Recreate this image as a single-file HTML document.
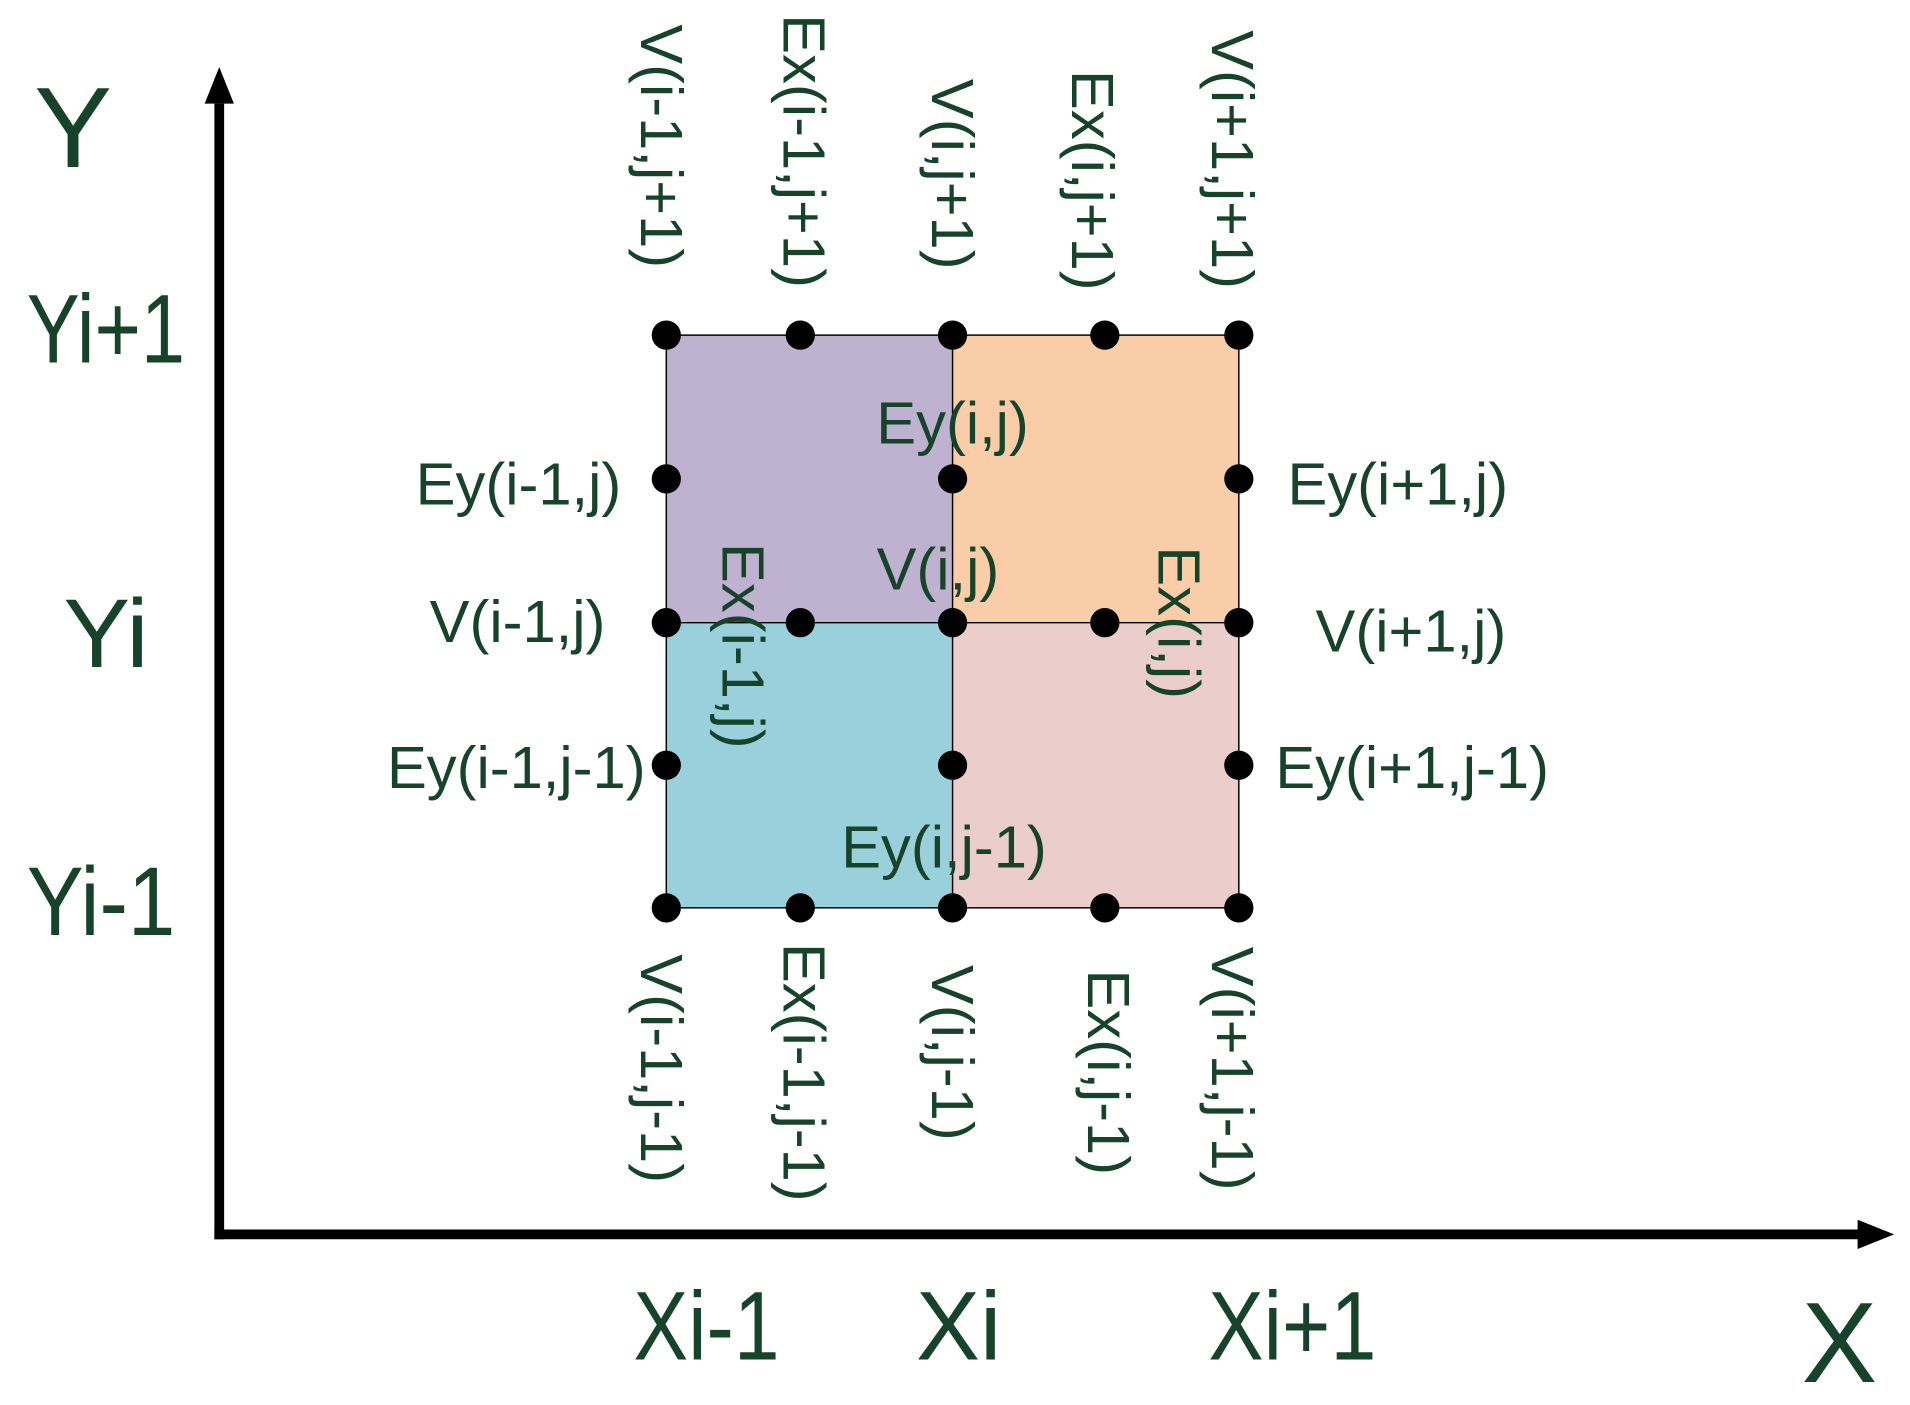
<!DOCTYPE html>
<html><head><meta charset="utf-8"><style>html,body{margin:0;padding:0;background:#fff}svg{display:block}</style></head>
<body>
<svg width="1910" height="1405" viewBox="0 0 1568 1153" preserveAspectRatio="none" xmlns="http://www.w3.org/2000/svg" font-family="Liberation Sans, Arial, sans-serif" fill="#17432a">
<rect x="547" y="275" width="235" height="236" fill="#bfb1d0"/>
<rect x="782" y="275" width="235" height="236" fill="#f9cda8"/>
<rect x="547" y="511" width="235" height="234" fill="#9ad0dc"/>
<rect x="782" y="511" width="235" height="234" fill="#ebcdcb"/>
<g stroke="#000" stroke-width="1.2" fill="none">
<rect x="547" y="275" width="470" height="470"/>
<line x1="782" y1="275" x2="782" y2="745"/>
<line x1="547" y1="511" x2="1017" y2="511"/>
</g>
<g stroke="#000" stroke-width="8">
<line x1="180" y1="85" x2="180" y2="1017"/>
<line x1="176" y1="1013" x2="1530" y2="1013"/>
</g>
<polygon points="180,55 168,85 192,85" fill="#000"/>
<polygon points="1555,1013 1525,1001 1525,1025" fill="#000"/>
<g fill="#000">
<circle cx="547" cy="275" r="12"/><circle cx="657" cy="275" r="12"/><circle cx="782" cy="275" r="12"/><circle cx="907" cy="275" r="12"/><circle cx="1017" cy="275" r="12"/>
<circle cx="547" cy="393" r="12"/><circle cx="782" cy="393" r="12"/><circle cx="1017" cy="393" r="12"/>
<circle cx="547" cy="511" r="12"/><circle cx="657" cy="511" r="12"/><circle cx="782" cy="511" r="12"/><circle cx="907" cy="511" r="12"/><circle cx="1017" cy="511" r="12"/>
<circle cx="547" cy="628" r="12"/><circle cx="782" cy="628" r="12"/><circle cx="1017" cy="628" r="12"/>
<circle cx="547" cy="745" r="12"/><circle cx="657" cy="745" r="12"/><circle cx="782" cy="745" r="12"/><circle cx="907" cy="745" r="12"/><circle cx="1017" cy="745" r="12"/>
</g>
<g font-size="49" dominant-baseline="central">
<text x="510" y="397" text-anchor="end">Ey(i-1,j)</text>
<text x="497" y="510" text-anchor="end">V(i-1,j)</text>
<text x="530" y="630" text-anchor="end">Ey(i-1,j-1)</text>
<text x="1057" y="397">Ey(i+1,j)</text>
<text x="1080" y="518">V(i+1,j)</text>
<text x="1047" y="630">Ey(i+1,j-1)</text>
<text x="782" y="347" text-anchor="middle">Ey(i,j)</text>
<text x="770" y="467" text-anchor="middle">V(i,j)</text>
<text x="775" y="695" text-anchor="middle">Ey(i,j-1)</text>
<text transform="translate(543,120) rotate(90)" text-anchor="middle">V(i-1,j+1)</text>
<text transform="translate(660,124) rotate(90)" text-anchor="middle">Ex(i-1,j+1)</text>
<text transform="translate(782,143) rotate(90)" text-anchor="middle">V(i,j+1)</text>
<text transform="translate(897,148) rotate(90)" text-anchor="middle">Ex(i,j+1)</text>
<text transform="translate(1012,131) rotate(90)" text-anchor="middle">V(i+1,j+1)</text>
<text transform="translate(543,877) rotate(90)" text-anchor="middle">V(i-1,j-1)</text>
<text transform="translate(660,880) rotate(90)" text-anchor="middle">Ex(i-1,j-1)</text>
<text transform="translate(782,864) rotate(90)" text-anchor="middle">V(i,j-1)</text>
<text transform="translate(910,880) rotate(90)" text-anchor="middle">Ex(i,j-1)</text>
<text transform="translate(1012,877) rotate(90)" text-anchor="middle">V(i+1,j-1)</text>
<text transform="translate(610,530) rotate(90)" text-anchor="middle">Ex(i-1,j)</text>
<text transform="translate(968,511) rotate(90)" text-anchor="middle">Ex(i,j)</text>
</g>
<g dominant-baseline="central">
<text x="60" y="105" font-size="94" text-anchor="middle" textLength="64" lengthAdjust="spacingAndGlyphs">Y</text>
<text x="22" y="270" font-size="80" textLength="130" lengthAdjust="spacingAndGlyphs">Yi+1</text>
<text x="52" y="520" font-size="80" textLength="70" lengthAdjust="spacingAndGlyphs">Yi</text>
<text x="22" y="740" font-size="80" textLength="122" lengthAdjust="spacingAndGlyphs">Yi-1</text>
<text x="520" y="1088" font-size="80" textLength="120" lengthAdjust="spacingAndGlyphs">Xi-1</text>
<text x="752" y="1088" font-size="80" textLength="70" lengthAdjust="spacingAndGlyphs">Xi</text>
<text x="992" y="1088" font-size="80" textLength="138" lengthAdjust="spacingAndGlyphs">Xi+1</text>
<text x="1510" y="1102" font-size="94" text-anchor="middle" textLength="62" lengthAdjust="spacingAndGlyphs">X</text>
</g>
</svg>
</body></html>
